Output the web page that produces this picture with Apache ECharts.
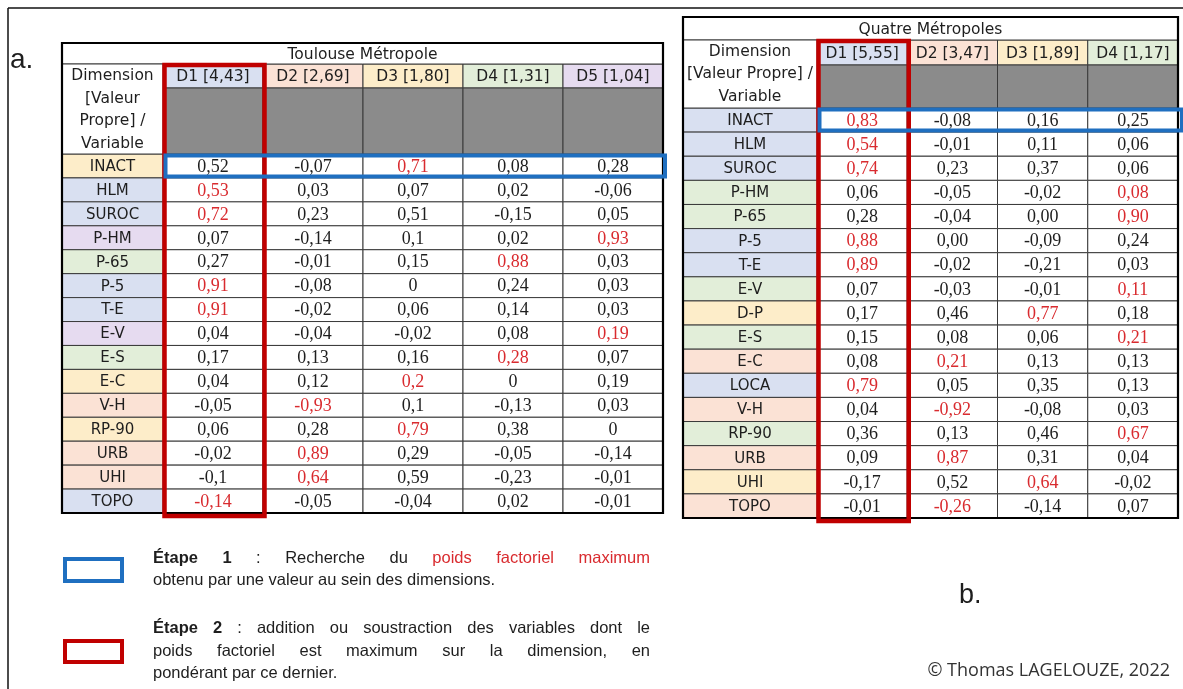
<!DOCTYPE html>
<html>
<head>
<meta charset="utf-8">
<script src="https://cdn.jsdelivr.net/npm/echarts@6/dist/echarts.min.js"></script>
<style>
  html, body { margin: 0; padding: 0; background: #fff; }
  #main { width: 1183px; height: 689px; }
</style>
</head>
<body>
<div id="main"></div>
<script>
// ---- données : Toulouse Métropole ----
var toulouseDims = ['D1 [4,43]', 'D2 [2,69]', 'D3 [1,80]', 'D4 [1,31]', 'D5 [1,04]'];
var toulouseVars = ['INACT', 'HLM', 'SUROC', 'P-HM', 'P-65', 'P-5', 'T-E', 'E-V', 'E-S', 'E-C', 'V-H', 'RP-90', 'URB', 'UHI', 'TOPO'];
var toulouseD1 = [0.52, 0.53, 0.72, 0.07, 0.27, 0.91, 0.91, 0.04, 0.17, 0.04, -0.05, 0.06, -0.02, -0.1, -0.14];
var toulouseD2 = [-0.07, 0.03, 0.23, -0.14, -0.01, -0.08, -0.02, -0.04, 0.13, 0.12, -0.93, 0.28, 0.89, 0.64, -0.05];
var toulouseD3 = [0.71, 0.07, 0.51, 0.1, 0.15, 0, 0.06, -0.02, 0.16, 0.2, 0.1, 0.79, 0.29, 0.59, -0.04];
var toulouseD4 = [0.08, 0.02, -0.15, 0.02, 0.88, 0.24, 0.14, 0.08, 0.28, 0, -0.13, 0.38, -0.05, -0.23, 0.02];
var toulouseD5 = [0.28, -0.06, 0.05, 0.93, 0.03, 0.03, 0.03, 0.19, 0.07, 0.19, 0.03, 0, -0.14, -0.01, -0.01];

// ---- données : Quatre Métropoles ----
var quatreDims = ['D1 [5,55]', 'D2 [3,47]', 'D3 [1,89]', 'D4 [1,17]'];
var quatreVars = ['INACT', 'HLM', 'SUROC', 'P-HM', 'P-65', 'P-5', 'T-E', 'E-V', 'D-P', 'E-S', 'E-C', 'LOCA', 'V-H', 'RP-90', 'URB', 'UHI', 'TOPO'];
var quatreD1 = [0.83, 0.54, 0.74, 0.06, 0.28, 0.88, 0.89, 0.07, 0.17, 0.15, 0.08, 0.79, 0.04, 0.36, 0.09, -0.17, -0.01];
var quatreD2 = [-0.08, -0.01, 0.23, -0.05, -0.04, 0.00, -0.02, -0.03, 0.46, 0.08, 0.21, 0.05, -0.92, 0.13, 0.87, 0.52, -0.26];
var quatreD3 = [0.16, 0.11, 0.37, -0.02, 0.00, -0.09, -0.21, -0.01, 0.77, 0.06, 0.13, 0.35, -0.08, 0.46, 0.31, 0.64, -0.14];
var quatreD4 = [0.25, 0.06, 0.06, 0.08, 0.90, 0.24, 0.03, 0.11, 0.18, 0.21, 0.13, 0.13, 0.03, 0.67, 0.04, -0.02, 0.07];

// ---- styles ----
var pastel = { blue: '#d9e0f1', peach: '#fbe2d5', yellow: '#fdedc9', green: '#e2eed9', purple: '#e6dbf0' };
var toulouseVarTone = ['yellow', 'blue', 'blue', 'purple', 'green', 'blue', 'blue', 'purple', 'green', 'yellow', 'peach', 'yellow', 'peach', 'peach', 'blue'];
var quatreVarTone = ['blue', 'blue', 'blue', 'green', 'green', 'blue', 'blue', 'green', 'yellow', 'green', 'peach', 'blue', 'peach', 'green', 'peach', 'yellow', 'peach'];
var dimTone = ['blue', 'peach', 'yellow', 'green', 'purple'];

var ink = '#1e1e1e';
var red = '#d92b2f';
var boxRed = '#c00000';
var boxBlue = '#1f6fc0';
var grey = '#8b8b8b';
var lineCol = '#3a3a3a';
var sans = '"DejaVu Sans", sans-serif';
var serif = '"Liberation Serif", serif';

function frNatural(v) { return String(v).replace('.', ','); }
function frFixed(v) { return v.toFixed(2).replace('.', ','); }

var tables = [
  {
    title: 'Toulouse Métropole', dims: toulouseDims, vars: toulouseVars,
    cols: [toulouseD1, toulouseD2, toulouseD3, toulouseD4, toulouseD5],
    tones: toulouseVarTone, fmt: frNatural,
    headLabel: 'Dimension\n[Valeur\nPropre] /\nVariable', headLabelOffset: 1,
    grid: { left: 163, top: 154, width: 500, height: 359 },
    labelW: 101, titleH: 21, headH: 24, greyH: 66, blueOver: 2
  },
  {
    title: 'Quatre Métropoles', dims: quatreDims, vars: quatreVars,
    cols: [quatreD1, quatreD2, quatreD3, quatreD4],
    tones: quatreVarTone, fmt: frFixed,
    headLabel: 'Dimension\n[Valeur Propre] /\nVariable', headLabelOffset: 0,
    grid: { left: 817, top: 108, width: 361, height: 410 },
    labelW: 134, titleH: 23, headH: 25, greyH: 43, blueOver: 4
  }
];

var grids = [], xAxes = [], yAxes = [], series = [];

tables.forEach(function (t, gi) {
  var nC = t.dims.length, nR = t.vars.length;
  grids.push(t.grid);
  xAxes.push({ type: 'category', gridIndex: gi, data: t.dims, show: false });
  yAxes.push({ type: 'category', gridIndex: gi, data: t.vars, inverse: true, show: false });

  // colonne où le poids factoriel est maximal (en valeur absolue) pour chaque variable
  var maxCol = t.vars.map(function (v, r) {
    var best = 0;
    for (var c = 1; c < nC; c++) {
      if (Math.abs(t.cols[c][r]) > Math.abs(t.cols[best][r])) best = c;
    }
    return best;
  });

  function bounds(api) {
    var a = api.coord([0, 0]), b = api.coord([nC - 1, nR - 1]), s = api.size([1, 1]);
    return { x0: a[0] - s[0] / 2, x1: b[0] + s[0] / 2, y0: a[1] - s[1] / 2, y1: b[1] + s[1] / 2, cw: s[0], rh: s[1] };
  }

  var cells = [];
  t.cols.forEach(function (col, c) {
    col.forEach(function (v, r) { cells.push([c, r, v]); });
  });

  // valeurs
  series.push({
    type: 'custom', xAxisIndex: gi, yAxisIndex: gi, z: 2, data: cells, silent: true,
    renderItem: function (params, api) {
      var c = api.value(0), r = api.value(1), v = api.value(2);
      var p = api.coord([c, r]), s = api.size([1, 1]);
      return {
        type: 'group', children: [
          { type: 'rect', shape: { x: p[0] - s[0] / 2, y: p[1] - s[1] / 2, width: s[0], height: s[1] },
            style: { fill: '#fff', stroke: lineCol, lineWidth: 1 } },
          { type: 'text', style: { text: t.fmt(v), x: p[0], y: p[1] + 1, align: 'center', verticalAlign: 'middle',
            font: '18px ' + serif, fill: maxCol[r] === c ? red : ink } }
        ]
      };
    }
  });

  // noms des variables
  series.push({
    type: 'custom', xAxisIndex: gi, yAxisIndex: gi, z: 2, silent: true,
    data: t.vars.map(function (v, r) { return [0, r]; }),
    renderItem: function (params, api) {
      var r = api.value(1);
      var p = api.coord([0, r]), s = api.size([1, 1]);
      var x = p[0] - s[0] / 2 - t.labelW;
      return {
        type: 'group', children: [
          { type: 'rect', shape: { x: x, y: p[1] - s[1] / 2, width: t.labelW, height: s[1] },
            style: { fill: pastel[t.tones[r]], stroke: lineCol, lineWidth: 1 } },
          { type: 'text', style: { text: t.vars[r], x: x + t.labelW / 2, y: p[1] + 1, align: 'center', verticalAlign: 'middle',
            font: '15px ' + sans, fill: ink } }
        ]
      };
    }
  });

  // en-têtes des dimensions + cellules grises
  series.push({
    type: 'custom', xAxisIndex: gi, yAxisIndex: gi, z: 2, silent: true,
    data: t.dims.map(function (d, c) { return [c, 0]; }),
    renderItem: function (params, api) {
      var c = api.value(0);
      var p = api.coord([c, 0]), s = api.size([1, 1]);
      var x = p[0] - s[0] / 2, top = p[1] - s[1] / 2;
      return {
        type: 'group', children: [
          { type: 'rect', shape: { x: x, y: top - t.greyH - t.headH, width: s[0], height: t.headH },
            style: { fill: pastel[dimTone[c]], stroke: lineCol, lineWidth: 1 } },
          { type: 'text', style: { text: t.dims[c], x: p[0], y: top - t.greyH - t.headH / 2 + 1, align: 'center', verticalAlign: 'middle',
            font: '15.5px ' + sans, fill: ink } },
          { type: 'rect', shape: { x: x, y: top - t.greyH, width: s[0], height: t.greyH },
            style: { fill: grey, stroke: lineCol, lineWidth: 1 } }
        ]
      };
    }
  });

  // titre, cellule fusionnée et cadre
  series.push({
    type: 'custom', xAxisIndex: gi, yAxisIndex: gi, z: 3, silent: true, data: [[0, 0]],
    renderItem: function (params, api) {
      var b = bounds(api);
      var left = b.x0 - t.labelW;
      var headTop = b.y0 - t.greyH - t.headH;
      var titleTop = headTop - t.titleH;
      return {
        type: 'group', children: [
          { type: 'rect', shape: { x: left, y: titleTop, width: b.x1 - left, height: t.titleH },
            style: { fill: '#fff', stroke: lineCol, lineWidth: 1 } },
          { type: 'text', style: { text: t.title, x: (left + b.x1) / 2, y: titleTop + t.titleH / 2 + 1, align: 'center', verticalAlign: 'middle',
            font: '15.5px ' + sans, fill: ink } },
          { type: 'rect', shape: { x: left, y: headTop, width: t.labelW, height: t.headH + t.greyH },
            style: { fill: '#fff', stroke: lineCol, lineWidth: 1 } },
          { type: 'text', style: { text: t.headLabel, x: left + t.labelW / 2, y: headTop + (t.headH + t.greyH) / 2 + t.headLabelOffset,
            align: 'center', verticalAlign: 'middle', lineHeight: 22.5, font: '15.5px ' + sans, fill: ink } },
          { type: 'rect', shape: { x: left, y: titleTop, width: b.x1 - left, height: b.y1 - titleTop },
            style: { fill: 'none', stroke: '#000', lineWidth: 2.2 } }
        ]
      };
    }
  });

  // étape 2 (colonne D1) et étape 1 (ligne INACT)
  series.push({
    type: 'custom', xAxisIndex: gi, yAxisIndex: gi, z: 4, silent: true, data: [[0, 0]],
    renderItem: function (params, api) {
      var b = bounds(api);
      var headTop = b.y0 - t.greyH - t.headH;
      return {
        type: 'group', children: [
          { type: 'rect', shape: { x: b.x0 + 1.5, y: headTop + 1, width: b.cw, height: b.y1 - headTop + 2 },
            style: { fill: 'none', stroke: boxRed, lineWidth: 4.5 } },
          { type: 'rect', shape: { x: b.x0 + 2.5, y: b.y0 + 1.5, width: b.x1 - b.x0 - 2.5 + t.blueOver, height: b.rh - 3 },
            style: { fill: 'none', stroke: boxBlue, lineWidth: 4 } }
        ]
      };
    }
  });
});

// ---- légende (texte justifié) ----
var legendFont = '"Liberation Sans", Arial, sans-serif';
var legendSize = 16.5;
var measureCtx = document.createElement('canvas').getContext('2d');
function fontOf(w) { return (w.bold ? 'bold ' : '') + legendSize + 'px ' + legendFont; }
function textLine(words, x, y, width, justify) {
  var widths = words.map(function (w) { measureCtx.font = fontOf(w); return measureCtx.measureText(w.t).width; });
  measureCtx.font = fontOf({});
  var normalGap = measureCtx.measureText(' ').width;
  var total = widths.reduce(function (a, b) { return a + b; }, 0);
  var gap = justify ? (width - total) / (words.length - 1) : normalGap;
  var out = [], cx = x;
  words.forEach(function (w, i) {
    out.push({ type: 'text', x: cx, y: y, silent: true,
      style: { text: w.t, font: fontOf(w), fill: w.color || ink, textVerticalAlign: 'middle', verticalAlign: 'middle' } });
    cx += widths[i] + gap;
  });
  return out;
}
function words(str, opts) {
  return str.split(' ').map(function (s) { var o = { t: s }; for (var k in opts) o[k] = opts[k]; return o; });
}

var legendX = 153, legendW = 497;
var graphics = [
  { type: 'line', shape: { x1: 8, y1: 8, x2: 1183, y2: 8 }, style: { stroke: '#111', lineWidth: 1.5 }, silent: true },
  { type: 'line', shape: { x1: 8, y1: 8, x2: 8, y2: 689 }, style: { stroke: '#111', lineWidth: 1.5 }, silent: true },
  { type: 'text', x: 10, y: 60, silent: true, style: { text: 'a.', font: '28px "Liberation Sans", sans-serif', fill: ink, textVerticalAlign: 'middle', verticalAlign: 'middle' } },
  { type: 'text', x: 959, y: 596, silent: true, style: { text: 'b.', font: '27px "Liberation Sans", sans-serif', fill: ink, textVerticalAlign: 'middle', verticalAlign: 'middle' } },
  { type: 'text', x: 1170, y: 671, silent: true, style: { text: '© Thomas LAGELOUZE, 2022', font: '18px "Open Sans", sans-serif', fill: '#333',
    textAlign: 'right', align: 'right', textVerticalAlign: 'middle', verticalAlign: 'middle' } },
  { type: 'rect', shape: { x: 65, y: 559, width: 57, height: 22 }, style: { fill: 'none', stroke: boxBlue, lineWidth: 4 }, silent: true },
  { type: 'rect', shape: { x: 65, y: 641, width: 57, height: 21 }, style: { fill: 'none', stroke: boxRed, lineWidth: 4 }, silent: true }
];
graphics = graphics
  .concat(textLine(words('Étape 1', { bold: true }).concat(words(': Recherche du')).concat(words('poids factoriel maximum', { color: red })),
    legendX, 558, legendW, true))
  .concat(textLine(words('obtenu par une valeur au sein des dimensions.'), legendX, 580, legendW, false))
  .concat(textLine(words('Étape 2', { bold: true }).concat(words(': addition ou soustraction des variables dont le')),
    legendX, 628, legendW, true))
  .concat(textLine(words('poids factoriel est maximum sur la dimension, en'), legendX, 651, legendW, true))
  .concat(textLine(words('pondérant par ce dernier.'), legendX, 673, legendW, false));

var chart = echarts.init(document.getElementById('main'));
chart.setOption({
  backgroundColor: '#fff',
  animation: false,
  grid: grids,
  xAxis: xAxes,
  yAxis: yAxes,
  series: series,
  graphic: { elements: graphics }
});
</script>
</body>
</html>
